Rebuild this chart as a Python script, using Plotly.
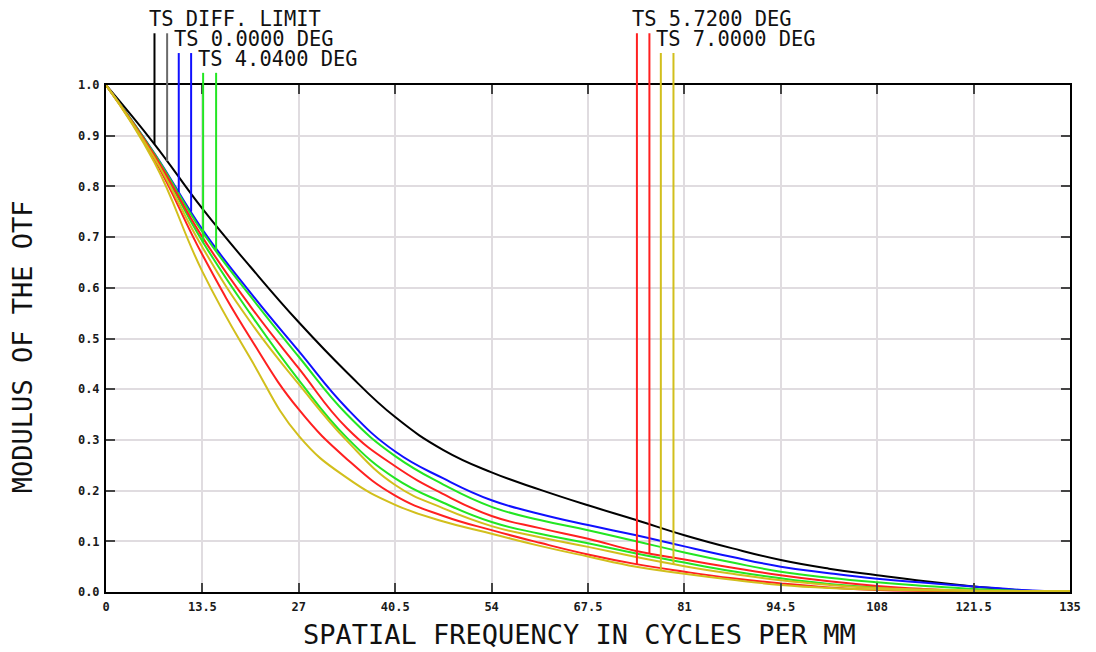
import numpy as np
import plotly.graph_objects as go

# Spatial frequency samples (cycles/mm)
freq = [0, 6.75, 13.5, 20.25, 27, 33.75, 40.5, 47.25, 54, 60.75, 67.5,
        74.25, 81, 87.75, 94.5, 101.25, 108, 114.75, 121.5, 128.25, 135]

# Diffraction limit (T and S coincide)
diff_limit = [1.0, 0.884, 0.756, 0.641, 0.532, 0.433, 0.345, 0.280, 0.236, 0.202, 0.171,
              0.142, 0.112, 0.086, 0.063, 0.046, 0.033, 0.021, 0.011, 0.003, 0.0]
# On-axis field, 0.0000 deg (T and S coincide)
deg0_ts = [1.0, 0.866, 0.715, 0.590, 0.475, 0.362, 0.277, 0.224, 0.181, 0.154, 0.132,
           0.112, 0.090, 0.069, 0.050, 0.037, 0.026, 0.018, 0.011, 0.004, 0.0]
# 4.0400 deg field
deg404_t = [1.0, 0.861, 0.692, 0.548, 0.418, 0.304, 0.224, 0.176, 0.138, 0.115, 0.096,
            0.076, 0.058, 0.041, 0.027, 0.016, 0.009, 0.004, 0.001, 0.0, 0.0]
deg404_s = [1.0, 0.865, 0.710, 0.583, 0.464, 0.350, 0.268, 0.212, 0.168, 0.142, 0.122,
            0.100, 0.078, 0.058, 0.040, 0.028, 0.019, 0.012, 0.006, 0.002, 0.0]
# 5.7200 deg field
deg572_t = [1.0, 0.854, 0.665, 0.500, 0.360, 0.262, 0.190, 0.150, 0.122, 0.097, 0.074,
            0.055, 0.040, 0.027, 0.017, 0.009, 0.004, 0.002, 0.001, 0.0, 0.0]
deg572_s = [1.0, 0.862, 0.700, 0.563, 0.441, 0.323, 0.248, 0.193, 0.150, 0.126, 0.105,
            0.081, 0.064, 0.048, 0.033, 0.021, 0.012, 0.006, 0.002, 0.0, 0.0]
# 7.0000 deg field
deg700_t = [1.0, 0.848, 0.632, 0.460, 0.308, 0.225, 0.172, 0.139, 0.115, 0.091, 0.070,
            0.050, 0.036, 0.024, 0.014, 0.008, 0.005, 0.003, 0.002, 0.002, 0.002]
deg700_s = [1.0, 0.857, 0.680, 0.532, 0.410, 0.298, 0.211, 0.165, 0.130, 0.108, 0.089,
            0.069, 0.051, 0.036, 0.023, 0.014, 0.008, 0.005, 0.003, 0.002, 0.002]

x_ticks = [0, 13.5, 27, 40.5, 54, 67.5, 81, 94.5, 108, 121.5, 135]
x_tick_text = ["0", "13.5", "27", "40.5", "54", "67.5", "81", "94.5", "108", "121.5", "135"]
y_ticks = [0.0, 0.1, 0.2, 0.3, 0.4, 0.5, 0.6, 0.7, 0.8, 0.9, 1.0]
y_tick_text = ["0.0", "0.1", "0.2", "0.3", "0.4", "0.5", "0.6", "0.7", "0.8", "0.9", "1.0"]

field_labels = ["TS DIFF. LIMIT", "TS 0.0000 DEG", "TS 4.0400 DEG", "TS 5.7200 DEG", "TS 7.0000 DEG"]

BLACK = "#000000"
BLUE = "#1010ff"
GREEN = "#22e622"
RED = "#ff2020"
YELLOW = "#d2bf1c"

F_MAX = 135.0
MONO = "DejaVu Sans Mono"

fig = go.Figure()

# curves: (values, colour), drawn in field order so later fields sit on top
curves = [
    (diff_limit, BLACK),
    (deg0_ts, BLUE),
    (deg404_s, GREEN), (deg404_t, GREEN),
    (deg572_s, RED), (deg572_t, RED),
    (deg700_s, YELLOW), (deg700_t, YELLOW),
]
for vals, col in curves:
    fig.add_trace(go.Scatter(
        x=freq, y=vals, mode="lines",
        line=dict(color=col, width=2, shape="spline", smoothing=1.3),
        showlegend=False, hoverinfo="skip",
    ))

# legend stubs: a T and an S marker line that drop from the label to the curve
# (label, T curve, S curve, T colour, S colour, T position, S position, top of stubs)
stubs = [
    (field_labels[0], diff_limit, diff_limit, BLACK, "#6a6a6a", 6.79, 8.56, 1.102),
    (field_labels[1], deg0_ts, deg0_ts, BLUE, BLUE, 10.19, 11.92, 1.063),
    (field_labels[2], deg404_t, deg404_s, GREEN, GREEN, 13.60, 15.42, 1.024),
    (field_labels[3], deg572_t, deg572_s, RED, RED, 74.35, 76.10, 1.102),
    (field_labels[4], deg700_t, deg700_s, YELLOW, YELLOW, 77.70, 79.47, 1.063),
]

shapes = []
annotations = []
for label, t_vals, s_vals, t_col, s_col, t_f, s_f, top in stubs:
    for vals, col, f in ((t_vals, t_col, t_f), (s_vals, s_col, s_f)):
        bottom = float(np.interp(f, freq, vals))
        shapes.append(dict(type="line", xref="paper", yref="paper",
                           x0=f / F_MAX, x1=f / F_MAX, y0=bottom, y1=top,
                           line=dict(color=col, width=2)))
    annotations.append(dict(text=label, xref="paper", yref="paper",
                            x=t_f / F_MAX, y=top + 0.028, xanchor="left", yanchor="middle",
                            xshift=-7, showarrow=False,
                            font=dict(family=MONO, size=20.4, color="#111111")))

# axis titles
annotations.append(dict(text="SPATIAL FREQUENCY IN CYCLES PER MM", xref="paper", yref="paper",
                        x=0.4917, y=-0.083, xanchor="center", yanchor="middle", showarrow=False,
                        font=dict(family=MONO, size=27, color="#111111")))
annotations.append(dict(text="MODULUS OF THE OTF", xref="paper", yref="paper",
                        x=-0.0871, y=0.483, xanchor="center", yanchor="middle", showarrow=False,
                        textangle=-90,
                        font=dict(family=MONO, size=27, color="#111111")))

axis_common = dict(
    showline=True, linecolor="black", linewidth=2, mirror="ticks",
    ticks="inside", ticklen=9, tickwidth=2, tickcolor="#444444",
    showgrid=True, gridcolor="#e0dce0", gridwidth=2, zeroline=False,
    tickfont=dict(family=MONO, size=12, color="#1a1a1a", weight="bold"),
)

fig.update_layout(
    width=1096, height=652,
    margin=dict(l=106, r=26, t=85, b=60),
    paper_bgcolor="white", plot_bgcolor="white",
    xaxis=dict(range=[0, F_MAX], tickvals=x_ticks, ticktext=x_tick_text,
               ticklabelstandoff=3, **axis_common),
    yaxis=dict(range=[0, 1.0], tickvals=y_ticks, ticktext=y_tick_text,
               ticklabelstandoff=2, **axis_common),
    shapes=shapes,
    annotations=annotations,
    showlegend=False,
)

fig.write_html("out.html")
